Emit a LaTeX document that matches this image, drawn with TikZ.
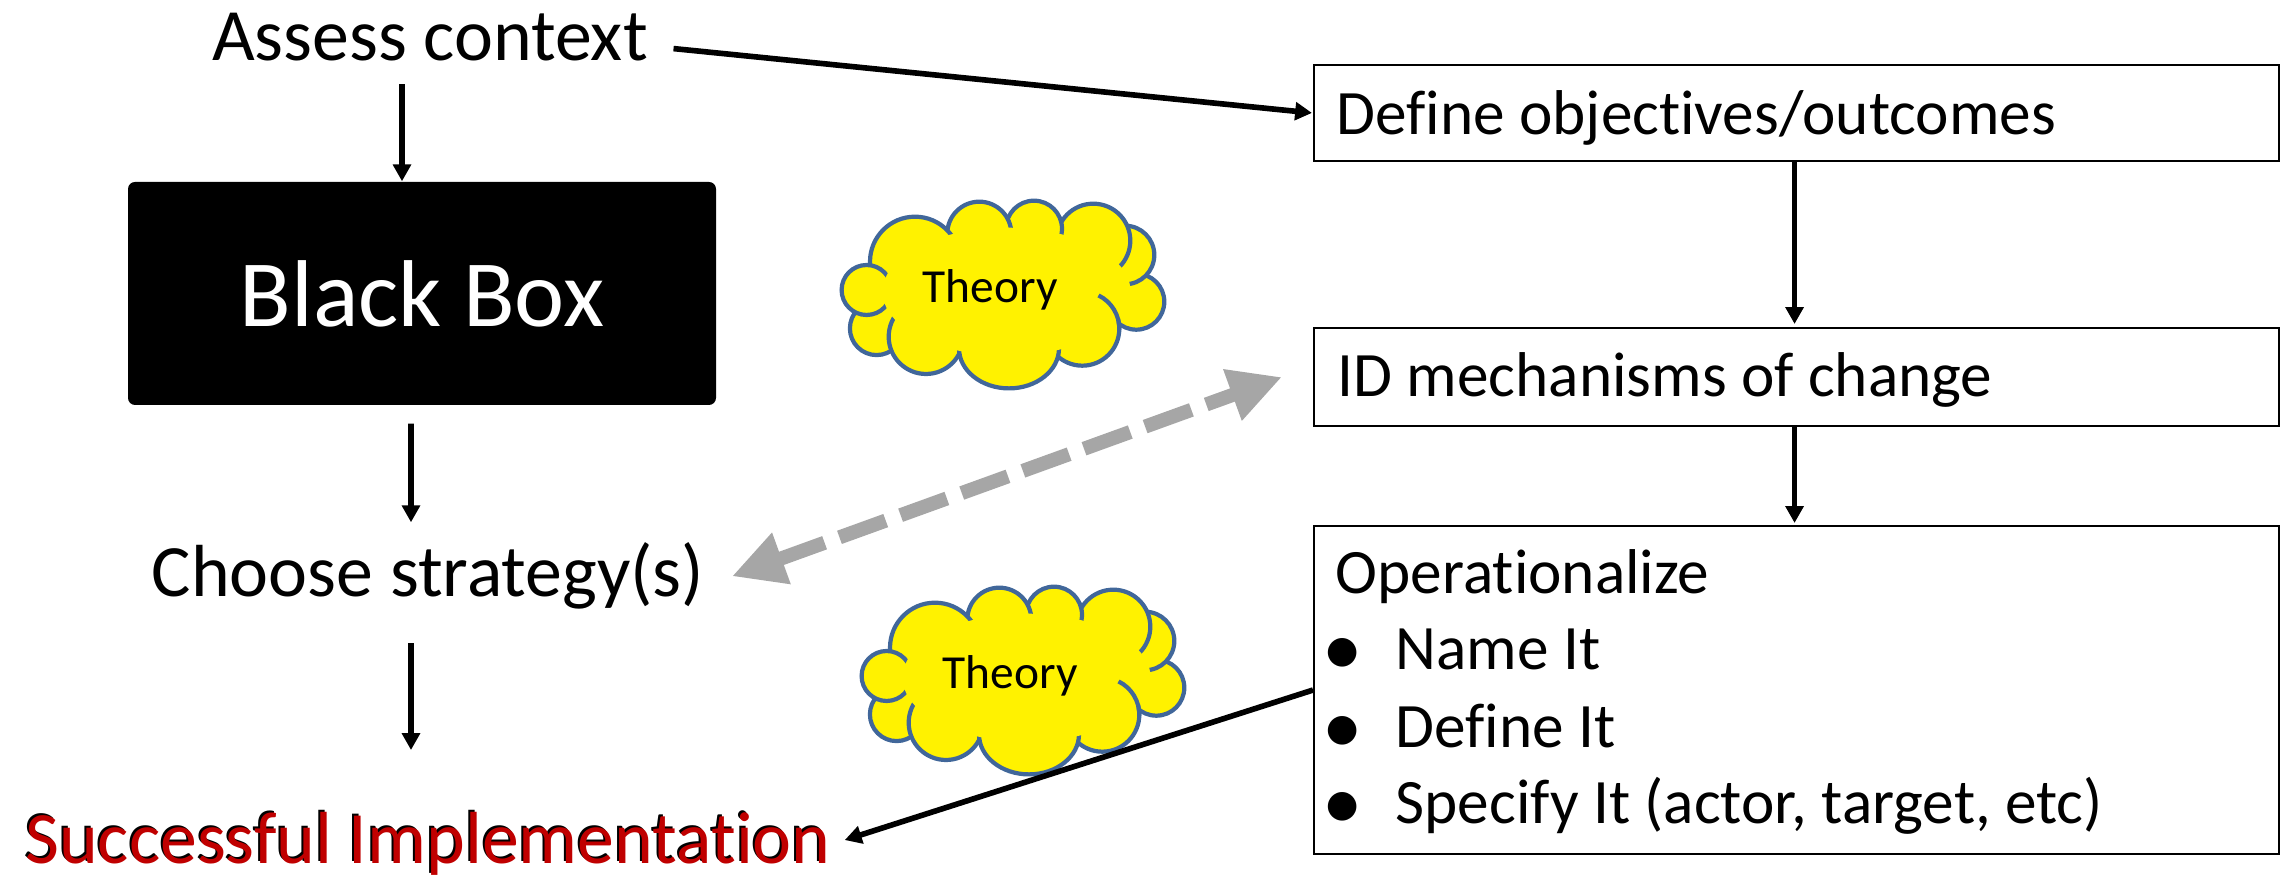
\documentclass[tikz,border=0pt]{standalone}
\usepackage{fontspec}
\setmainfont{Carlito}[Ligatures=NoCommon]
\usetikzlibrary{arrows.meta}

\definecolor{darkred}{HTML}{C00000}
\definecolor{cloudline}{HTML}{41679A}
\definecolor{arrowgray}{HTML}{A6A6A6}

\tikzset{
  big/.style={font=\fontsize{21}{25}\selectfont, inner sep=0pt},
  boxtext/.style={font=\fontsize{18}{22}\selectfont, inner sep=0pt},
  bulletmark/.style={font=\fontsize{23}{26}\selectfont, inner sep=0pt, text height=0.4cm, text depth=0pt},
  stepbox/.style={draw, line width=0.6pt, minimum width=9.65cm, inner sep=0pt},
  arr/.style={-{Triangle[length=4.8pt,width=5pt]}, line width=1.6pt},
  twoway/.style={{Triangle[length=15pt,width=14.5pt]}-{Triangle[length=15pt,width=14.5pt]},
    line width=4pt, draw=arrowgray, dash pattern=on 14pt off 4.5pt},
  puff/.style={fill=yellow, draw=cloudline, line width=1.2pt},
  theorytext/.style={font=\fontsize{13.5}{16}\selectfont, inner sep=0pt},
}

% yellow cloud with its label, #1 = centre, #2 = name of the label node
\newcommand{\theorycloud}[2]{%
  \begin{scope}[shift={#1}]
    \filldraw[puff] (1.34,-0.06) circle (0.28);
    \filldraw[puff] (0.80,-0.33) circle (0.37);
    \filldraw[puff] (-1.257,-0.327) circle (0.267);
    \filldraw[puff] (-0.763,-0.41) circle (0.373);
    \filldraw[puff] (0.067,-0.527) ellipse (0.50 and 0.40);
    \filldraw[puff] (1.227,0.407) circle (0.293);
    \filldraw[puff] (0.91,0.55) circle (0.37);
    \filldraw[puff] (0.317,0.67) circle (0.28);
    \filldraw[puff] (-0.23,0.62) circle (0.32);
    \filldraw[puff] (-0.873,0.34) circle (0.45);
    \filldraw[puff] (-1.357,0.057) circle (0.25);
    \fill[yellow] (0.043,0.04) ellipse (1.24 and 0.64);
    \draw[puff, fill=none] (0.80,-0.33) ++(-2:0.37) arc[start angle=-2, end angle=64, radius=0.37];
    \node[theorytext] (#2) at (-0.12,0.06) {Theory};
  \end{scope}}

\begin{document}
\begin{tikzpicture}
    \useasboundingbox (0,0) rectangle (22.85,8.78);

    % left column
    \node[big, anchor=base] (assess) at (4.30,8.17) {Assess context};
    \node[fill=black, rounded corners=2pt, minimum width=5.88cm, minimum height=2.23cm,
          text=white, font=\fontsize{27}{30}\selectfont] (bbox) at (4.22,5.845) {Black Box};
    \node[big, anchor=base] (choose) at (4.28,2.81) {Choose strategy(s)};
    \node[big, anchor=base, text=black] (successshadow) at (4.26,0.16) {Successful Implementation};
    \node[big, anchor=base, text=darkred] (success) at (4.28,0.14) {Successful Implementation};

    % right column
    \node[stepbox, anchor=north west, minimum height=0.96cm] (define) at (13.13,8.14) {};
    \node[boxtext, anchor=base west] (definetext) at (13.36,7.43) {Define objectives/outcomes};
    \node[stepbox, anchor=north west, minimum height=0.98cm] (idmech) at (13.13,5.51) {};
    \node[boxtext, anchor=base west] (idtext) at (13.37,4.81) {ID mechanisms of change};
    \node[stepbox, anchor=north west, minimum height=3.28cm] (oper) at (13.13,3.53) {};
    \node[boxtext, anchor=base west] (opname) at (13.35,2.84) {Operationalize};
    \node[bulletmark, anchor=base] (bul1) at (13.43,2.02) {\textbullet};
    \node[boxtext, anchor=base west] (item1) at (13.95,2.08) {Name It};
    \node[bulletmark, anchor=base] (bul2) at (13.43,1.24) {\textbullet};
    \node[boxtext, anchor=base west] (item2) at (13.95,1.30) {Define It};
    \node[bulletmark, anchor=base] (bul3) at (13.43,0.48) {\textbullet};
    \node[boxtext, anchor=base west] (item3) at (13.95,0.54) {Specify It (actor, target, etc)};

    % clouds
    \theorycloud{(10.023,5.823)}{theoryA}
    \theorycloud{(10.223,1.963)}{theoryB}

    % connectors
    \draw[arr, shorten <=0.22cm] ([xshift=-0.28cm]assess.south) -- ([xshift=-0.20cm]bbox.north);
    \draw[arr, shorten <=0.18cm, shorten >=0.2cm] ([xshift=-0.11cm]bbox.south) -- ([xshift=-0.17cm]choose.north);
    \draw[arr, shorten <=0.33cm, shorten >=0.62cm] ([xshift=-0.17cm]choose.south) -- ([xshift=-0.17cm]success.north);
    \draw[arr, shorten >=0.01cm] ([shift={(0.25,-0.11)}]assess.east) -- (define.west);
    \draw[arr, shorten >=0.03cm] ([xshift=-0.02cm]define.south) -- ([xshift=-0.02cm]idmech.north);
    \draw[arr, shorten >=0.02cm] ([xshift=-0.02cm]idmech.south) -- ([xshift=-0.02cm]oper.north);
    \draw[arr, shorten >=0.14cm] (oper.west) -- (success.east);
    \draw[twoway] ([xshift=0.27cm]choose.east) -- ([xshift=-0.31cm]idmech.west);
\end{tikzpicture}
\end{document}
